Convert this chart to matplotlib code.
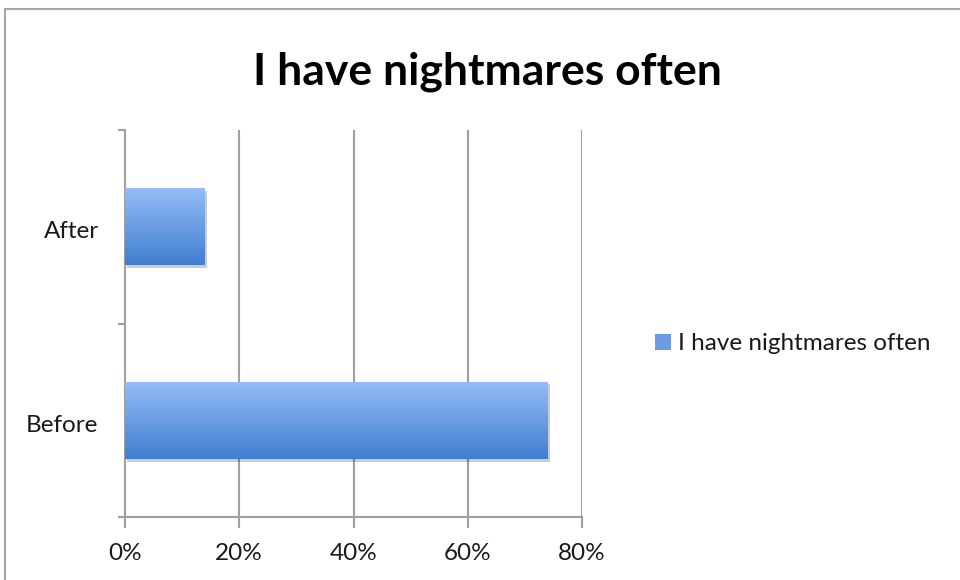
import numpy as np
import matplotlib
matplotlib.use("Agg")
import matplotlib.pyplot as plt
from matplotlib.patches import Rectangle
from matplotlib.ticker import FuncFormatter
import matplotlib.patheffects as pe
from matplotlib.transforms import ScaledTranslation

categories = ["Before", "After"]
values = [74, 14]
series_name = "I have nightmares often"
title = "I have nightmares often"
xticks = [0, 20, 40, 60, 80]

plt.rcParams['font.family'] = ['Lato', 'DejaVu Sans']

fig = plt.figure(figsize=(9.6, 5.8), dpi=100)
fig.patch.set_facecolor('white')

# figure border
fig.patches.append(Rectangle((5/960, -0.05), 1.2, (1 - 9/580) + 0.05, transform=fig.transFigure,
                             fill=False, edgecolor='#A6A6A6', linewidth=1.5, zorder=0))

ax = fig.add_axes([125/960, 1 - 517/580, (582-125)/960, (517-130)/580])
pos = np.arange(len(categories)) + 0.5
bars = ax.barh(pos, values, height=0.4, color='#6A9BE3', zorder=3,
               path_effects=[pe.SimplePatchShadow(offset=(1.5, -2), shadow_rgbFace='#000000', alpha=0.2), pe.Normal()])

# gradient overlay
top = np.array([0x96, 0xBD, 0xF7]) / 255
bot = np.array([0x40, 0x7E, 0xD0]) / 255
t = np.linspace(0, 1, 256)[:, None]
grad = (top * (1 - t) + bot * t)[:, None, :]
for b in bars:
    x0, y0, w, h = b.get_x(), b.get_y(), b.get_width(), b.get_height()
    im = ax.imshow(grad, extent=(x0, x0 + w, y0, y0 + h), origin='upper', aspect='auto',
                   zorder=4, interpolation='bilinear')
    im.set_clip_path(b)

ax.set_xlim(0, 80)
ax.set_ylim(0, 2)
ax.set_xticks(xticks)
ax.xaxis.set_major_formatter(FuncFormatter(lambda v, p: f"{int(v)}%"))
ax.set_yticks([0, 1, 2])
ax.set_yticks(pos, minor=True)
ax.set_yticklabels(categories, minor=True)
ax.set_yticklabels([])
ax.tick_params(axis='y', which='minor', length=0, pad=19, labelsize=17.5, labelcolor='#1a1a1a')
ax.tick_params(axis='y', which='major', length=5, width=1.5, color='#A0A0A0')
ax.tick_params(axis='x', length=8, width=1.5, color='#A0A0A0', pad=11, labelsize=17.5, labelcolor='#1a1a1a')
shift = ScaledTranslation(0, -3/100, fig.dpi_scale_trans)
for lbl in ax.get_yticklabels(minor=True):
    lbl.set_transform(lbl.get_transform() + shift)

for s in ['top', 'right']:
    ax.spines[s].set_visible(False)
for s in ['left', 'bottom']:
    ax.spines[s].set_color('#A0A0A0')
    ax.spines[s].set_linewidth(1.5)
ax.spines['bottom'].set_bounds(-0.7, 80)
ax.grid(axis='x', color='#A0A0A0', linewidth=1.5, zorder=1)
ax.set_axisbelow(True)

fig.text(487/960, 1 - 72/580, title, ha='center', va='center', fontsize=32,
         fontweight='bold', color='#000000')

handle = Rectangle((0, 0), 1, 1, facecolor='#6A9BE3', edgecolor='none')
leg = fig.legend([handle], [series_name], loc='center left',
                 bbox_to_anchor=(655/960, 1 - 344/580), bbox_transform=fig.transFigure,
                 frameon=False, borderpad=0, borderaxespad=0, handlelength=0.65,
                 handleheight=0.65, handletextpad=0.3, fontsize=17.5)
for txt in leg.get_texts():
    txt.set_color('#1a1a1a')

fig.savefig("out.png", dpi=100)
